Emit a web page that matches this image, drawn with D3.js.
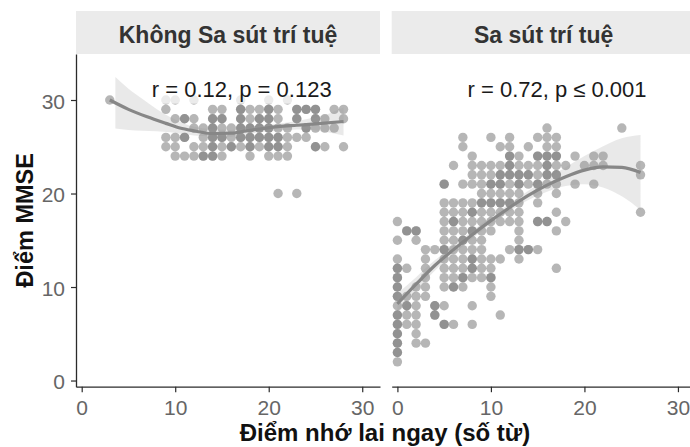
<!DOCTYPE html>
<html>
<head>
<meta charset="utf-8">
<script src="https://cdn.jsdelivr.net/npm/d3@7"></script>
<style>
body { margin: 0; background: #fff; }
text { font-family: "Liberation Sans", Arial, sans-serif; }
</style>
</head>
<body>
<svg width="690" height="447"></svg>
<script>
// ************** Data *****************
var panels = ["Không Sa sút trí tuệ", "Sa sút trí tuệ"];
var corLabels = ["r = 0.12, p = 0.123", "r = 0.72, p ≤ 0.001"];
var xTicks = [0, 10, 20, 30];
var yTicks = [0, 10, 20, 30];

// [MMSE, recall scores]; a score listed twice = two people on the same spot
var noDementiaRows = [
    [30, [3, 9, 10, 12, 17, 20, 22]],
    [29, [9, 14, 15, 17, 17, 18, 19, 20, 20, 21, 23, 23, 24, 24, 25, 25, 27, 28]],
    [28, [10, 11, 11, 12, 14, 14, 15, 15, 17, 17, 18, 19, 19, 20, 20, 21, 23, 23, 25, 25, 26, 28]],
    [27, [12, 13, 14, 14, 15, 16, 17, 17, 18, 18, 19, 19, 20, 20, 21, 22, 24, 24, 25, 26, 27]],
    [26, [9, 10, 11, 11, 13, 14, 14, 15, 15, 16, 17, 17, 18, 18, 19, 19, 20, 20, 21, 21, 22, 23, 24]],
    [25, [9, 10, 12, 13, 14, 14, 15, 16, 16, 17, 18, 18, 19, 20, 20, 21, 21, 22, 25, 25, 26, 28]],
    [24, [10, 11, 12, 13, 13, 14, 14, 15, 18, 20, 21, 22]],
    [20, [21, 23]]
];

var dementiaRows = [
    [27, [16, 24]],
    [26, [7, 10, 12, 15, 16, 17]],
    [25, [7, 11, 12, 14, 16, 17]],
    [24, [8, 12, 12, 13, 15, 15, 16, 16, 17, 17, 19, 21, 22]],
    [23, [6, 8, 9, 10, 11, 12, 12, 13, 14, 15, 16, 16, 17, 18, 20, 21, 22, 26]],
    [22, [8, 9, 10, 11, 11, 12, 12, 13, 13, 14, 14, 15, 16, 16, 17, 17, 26]],
    [21, [5, 5, 7, 8, 9, 10, 10, 11, 11, 12, 13, 13, 14, 15, 15, 16, 17, 19, 21]],
    [20, [9, 10, 11, 12, 13, 15, 17]],
    [19, [5, 6, 7, 8, 9, 9, 10, 10, 11, 11, 12, 12, 13, 15]],
    [18, [5, 6, 7, 8, 8, 9, 10, 11, 12, 13, 17, 26]],
    [17, [0, 5, 6, 6, 7, 8, 9, 10, 11, 12, 13, 15, 15, 16, 16, 18]],
    [16, [1, 1, 2, 2, 5, 6, 7, 8, 8, 9, 10, 13, 17]],
    [15, [0, 2, 5, 6, 7, 7, 8, 9, 13]],
    [14, [3, 4, 5, 5, 6, 7, 8, 9, 12, 13, 13, 14, 14, 15]],
    [13, [0, 3, 5, 6, 7, 8, 8, 9, 10, 11, 13]],
    [12, [0, 0, 1, 3, 5, 6, 7, 8, 8, 9, 10, 17]],
    [11, [0, 0, 3, 5, 6, 7, 7, 8, 9, 10, 10]],
    [10, [0, 0, 2, 3, 5, 6, 6, 7, 10]],
    [9, [0, 0, 1, 2, 3, 10]],
    [8, [0, 1, 1, 2, 4, 4, 5, 8]],
    [7, [0, 0, 1, 2, 4, 4, 11]],
    [6, [0, 0, 1, 2, 5, 5, 6, 8]],
    [5, [0, 0, 2]],
    [4, [0, 0, 2, 3]],
    [3, [0, 0]],
    [2, [0]]
];

// smoothed fit and its confidence band
var noDemFitX = [3, 5, 7, 9, 10.5, 12, 14, 16, 17.6, 19, 21, 23, 25, 28];
var noDemFitY = [30.0, 29.0, 28.2, 27.5, 27.0, 26.7, 26.4, 26.45, 26.7, 26.9, 27.15, 27.3, 27.45, 27.7];
var noDemBandX = [3.6, 5, 6.5, 8, 9.5, 11, 13, 16, 19, 22, 24, 26, 28];
var noDemBandLo = [26.95, 26.8, 26.7, 26.65, 26.55, 26.35, 26.15, 26.1, 26.55, 26.8, 26.85, 26.6, 26.2];
var noDemBandHi = [32.45, 31.2, 30.1, 29.05, 28.15, 27.45, 26.95, 26.8, 27.25, 27.6, 27.95, 28.4, 29.2];

var demFitX = [0, 2, 4, 6, 8, 10, 12, 14, 16, 18, 20, 22, 24, 26];
var demFitY = [8.2, 10.3, 12.3, 14.0, 15.6, 17.1, 18.5, 19.8, 20.9, 21.8, 22.5, 22.85, 22.8, 22.25];
var demBandX = [0, 2, 4, 6, 8, 10, 12, 14, 16, 18, 20, 22, 24, 26];
var demBandLo = [7.1, 9.55, 11.75, 13.55, 15.2, 16.7, 18.1, 19.3, 20.2, 20.8, 21.0, 20.65, 19.7, 18.25];
var demBandHi = [9.3, 11.05, 12.85, 14.45, 16.0, 17.5, 18.9, 20.3, 21.6, 22.8, 24.0, 25.05, 25.9, 26.25];

// ************** Layout *****************
var svg = d3.select("svg"),
    panelW = 304,
    panelTop = 54,
    panelBottom = 386.7,
    panelLeft = [76, 391.7];

var y = d3.scaleLinear().domain([-0.66, 34.92]).range([panelBottom, panelTop]);

var toPoints = function (rows) {
    var pts = [];
    rows.forEach(function (r) {
        r[1].forEach(function (v) { pts.push({x: v, y: r[0]}); });
    });
    return pts;
};

var zipFit = function (xs, ys) {
    return xs.map(function (v, i) { return {x: v, y: ys[i]}; });
};
var zipBand = function (xs, lo, hi) {
    return xs.map(function (v, i) { return {x: v, lo: lo[i], hi: hi[i]}; });
};

var panelData = [
    {points: toPoints(noDementiaRows), fit: zipFit(noDemFitX, noDemFitY), band: zipBand(noDemBandX, noDemBandLo, noDemBandHi)},
    {points: toPoints(dementiaRows), fit: zipFit(demFitX, demFitY), band: zipBand(demBandX, demBandLo, demBandHi)}
];

panelData.forEach(function (pd, i) {
    var left = panelLeft[i];
    var x = d3.scaleLinear().domain([-0.61, 31.9]).range([left, left + panelW]);
    var g = svg.append("g");

    // strip
    g.append("rect")
        .attr("x", left).attr("y", 11)
        .attr("width", panelW).attr("height", panelTop - 11)
        .attr("fill", "#ebebeb");
    g.append("text")
        .attr("x", left + panelW / 2).attr("y", 42.7)
        .attr("text-anchor", "middle")
        .attr("font-size", "23px").attr("font-weight", "bold")
        .attr("fill", "#333")
        .text(panels[i]);

    // points
    g.selectAll(".pt")
        .data(pd.points)
        .enter()
        .append("circle")
        .attr("class", "pt")
        .attr("cx", function (d) { return x(d.x); })
        .attr("cy", function (d) { return y(d.y); })
        .attr("r", 4.7)
        .attr("fill", "#6e6e6e")
        .attr("fill-opacity", 0.5);

    // smooth + band
    g.append("path")
        .datum(pd.band)
        .attr("d", d3.area()
            .x(function (d) { return x(d.x); })
            .y0(function (d) { return y(d.lo); })
            .y1(function (d) { return y(d.hi); })
            .curve(d3.curveMonotoneX))
        .attr("fill", "#999")
        .attr("fill-opacity", 0.22);
    g.append("path")
        .datum(pd.fit)
        .attr("d", d3.line()
            .x(function (d) { return x(d.x); })
            .y(function (d) { return y(d.y); })
            .curve(d3.curveMonotoneX))
        .attr("fill", "none")
        .attr("stroke", "#878787")
        .attr("stroke-width", 3.2);

    // correlation label
    var lab = g.append("g");
    var t = lab.append("text")
        .attr("x", x(7.5)).attr("y", y(30.35))
        .attr("font-size", "22px")
        .attr("fill", "#1a1a1a")
        .text(corLabels[i]);
    var bb = t.node().getBBox();
    lab.insert("rect", "text")
        .attr("x", bb.x - 3).attr("y", bb.y - 2)
        .attr("width", bb.width + 6).attr("height", bb.height + 4)
        .attr("fill", "#fff").attr("fill-opacity", 0.72);

    // x axis
    var ax = g.append("g")
        .attr("transform", "translate(0," + panelBottom + ")")
        .call(d3.axisBottom(x).tickValues(xTicks).tickSizeInner(5.5).tickSizeOuter(0).tickPadding(8));
    ax.select(".domain").attr("stroke", "#2b2b2b").attr("stroke-width", 1.3);
    ax.selectAll(".tick line").attr("stroke", "#2b2b2b").attr("stroke-width", 1.2);
    ax.selectAll(".tick text").attr("font-size", "21px").attr("fill", "#666")
        .attr("font-family", "Liberation Sans, Arial, sans-serif");

    // y axis only on first panel
    if (i === 0) {
        var ay = g.append("g")
            .attr("transform", "translate(" + left + ",0)")
            .call(d3.axisLeft(y).tickValues(yTicks).tickSizeInner(5).tickSizeOuter(0).tickPadding(6));
        ay.select(".domain").attr("stroke", "#2b2b2b").attr("stroke-width", 1.3);
        ay.selectAll(".tick line").attr("stroke", "#2b2b2b").attr("stroke-width", 1.2);
        ay.selectAll(".tick text").attr("font-size", "21px").attr("fill", "#666").attr("dy", "0.4em")
            .attr("font-family", "Liberation Sans, Arial, sans-serif");
    }
});

// axis titles
svg.append("text")
    .attr("transform", "translate(33," + (panelTop + panelBottom) / 2 + ") rotate(-90)")
    .attr("text-anchor", "middle")
    .attr("font-size", "23.5px").attr("font-weight", "bold")
    .attr("fill", "#111")
    .text("Điểm MMSE");

svg.append("text")
    .attr("x", 385).attr("y", 441)
    .attr("text-anchor", "middle")
    .attr("font-size", "24px").attr("font-weight", "bold")
    .attr("fill", "#111")
    .text("Điểm nhớ lai ngay (số từ)");
</script>
</body>
</html>
